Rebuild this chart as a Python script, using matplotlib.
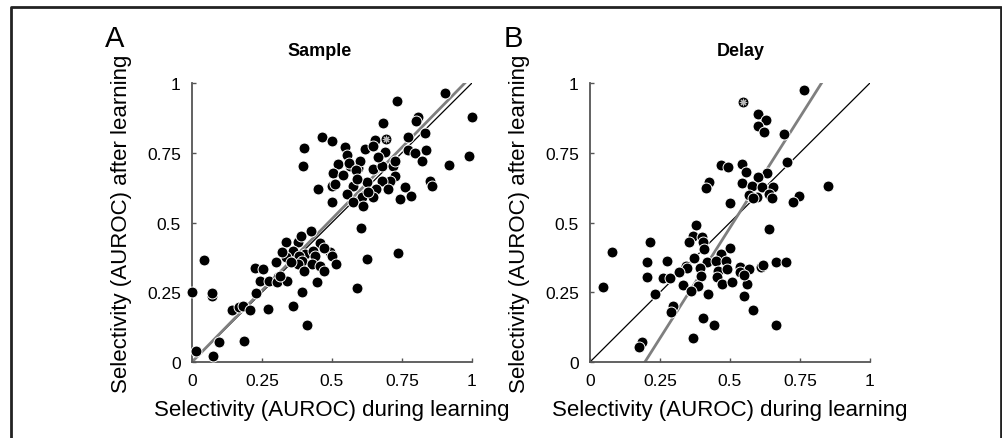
import numpy as np
import matplotlib
matplotlib.use("Agg")
import matplotlib.pyplot as plt
from matplotlib.lines import Line2D

plt.rcParams['font.family'] = ['Liberation Sans', 'DejaVu Sans']

# Sample period: selectivity during learning (x) vs after learning (y)
sample_during = [0.904, 1.0, 0.731, 0.808, 0.80, 0.681, 0.832, 0.773, 0.654, 0.463,
                 0.499, 0.545, 0.617, 0.401, 0.835, 0.773, 0.796, 0.552, 0.647, 0.689,
                 0.395, 0.523, 0.564, 0.594, 0.600, 0.647, 0.677, 0.719, 0.725, 0.820,
                 0.919, 0.990, 0.502, 0.540, 0.725, 0.707, 0.677, 0.850, 0.856, 0.624,
                 0.576, 0.499, 0.511, 0.451, 0.701, 0.761, 0.659, 0.552, 0.606, 0.647,
                 0.576, 0.743, 0.781, 0.499, 0.610, 0.630, 0.604, 0.424, 0.336, 0.377,
                 0.388, 0.457, 0.362, 0.404, 0.433, 0.493, 0.499, 0.336, 0.381, 0.393,
                 0.439, 0.427, 0.379, 0.514, 0.457, 0.300, 0.471, 0.400, 0.225, 0.255,
                 0.243, 0.276, 0.308, 0.305, 0.340, 0.314, 0.448, 0.626, 0.737, 0.043,
                 0.0, 0.073, 0.073, 0.228, 0.394, 0.591, 0.144, 0.169, 0.181, 0.207,
                 0.270, 0.362, 0.410, 0.186, 0.098, 0.013, 0.076, 0.560, 0.585, 0.666,
                 0.470, 0.355, 0.320, 0.590]
sample_after = [0.964, 0.879, 0.937, 0.879, 0.865, 0.855, 0.821, 0.807, 0.797, 0.807,
                0.793, 0.772, 0.762, 0.766, 0.761, 0.760, 0.748, 0.742, 0.775, 0.751,
                0.704, 0.710, 0.704, 0.695, 0.719, 0.692, 0.704, 0.704, 0.719, 0.722,
                0.706, 0.737, 0.677, 0.670, 0.665, 0.650, 0.650, 0.650, 0.632, 0.647,
                0.632, 0.632, 0.638, 0.620, 0.620, 0.626, 0.620, 0.602, 0.593, 0.590,
                0.572, 0.584, 0.596, 0.572, 0.560, 0.608, 0.479, 0.471, 0.431, 0.431,
                0.453, 0.425, 0.399, 0.387, 0.399, 0.393, 0.381, 0.375, 0.381, 0.363,
                0.381, 0.351, 0.351, 0.351, 0.345, 0.357, 0.325, 0.325, 0.336, 0.333,
                0.291, 0.291, 0.303, 0.285, 0.289, 0.309, 0.285, 0.371, 0.389, 0.367,
                0.250, 0.238, 0.246, 0.246, 0.250, 0.265, 0.187, 0.196, 0.200, 0.187,
                0.189, 0.200, 0.134, 0.074, 0.071, 0.041, 0.020, 0.715, 0.690, 0.735,
                0.410, 0.360, 0.395, 0.655]
sample_marked = (0.693, 0.799)
sample_fit = (1.026, 0.0)   # slope, intercept of gray line

# Delay period
delay_during = [0.764, 0.599, 0.627, 0.601, 0.621, 0.693, 0.702, 0.468, 0.494, 0.544,
                0.556, 0.631, 0.601, 0.542, 0.577, 0.613, 0.655, 0.426, 0.414, 0.849,
                0.569, 0.595, 0.641, 0.649, 0.581, 0.748, 0.724, 0.500, 0.639, 0.379,
                0.367, 0.399, 0.405, 0.355, 0.409, 0.214, 0.080, 0.500, 0.468, 0.202,
                0.274, 0.343, 0.373, 0.417, 0.450, 0.486, 0.458, 0.488, 0.393, 0.348,
                0.536, 0.568, 0.611, 0.619, 0.664, 0.700, 0.319, 0.202, 0.262, 0.286,
                0.333, 0.395, 0.452, 0.472, 0.506, 0.560, 0.536, 0.550, 0.387, 0.360,
                0.423, 0.232, 0.045, 0.550, 0.581, 0.298, 0.288, 0.405, 0.444, 0.664,
                0.369, 0.185, 0.175]
delay_after = [0.975, 0.889, 0.868, 0.845, 0.823, 0.817, 0.716, 0.707, 0.700, 0.709,
               0.680, 0.677, 0.662, 0.641, 0.632, 0.626, 0.626, 0.644, 0.623, 0.632,
               0.599, 0.591, 0.602, 0.587, 0.587, 0.596, 0.572, 0.569, 0.477, 0.491,
               0.453, 0.447, 0.431, 0.431, 0.405, 0.429, 0.395, 0.407, 0.387, 0.357,
               0.361, 0.345, 0.372, 0.357, 0.363, 0.363, 0.327, 0.333, 0.336, 0.336,
               0.339, 0.333, 0.341, 0.347, 0.357, 0.357, 0.321, 0.304, 0.300, 0.300,
               0.276, 0.309, 0.304, 0.280, 0.286, 0.280, 0.321, 0.312, 0.273, 0.253,
               0.243, 0.243, 0.268, 0.238, 0.188, 0.200, 0.180, 0.157, 0.133, 0.134,
               0.085, 0.073, 0.055]
delay_marked = (0.548, 0.933)
delay_fit = (1.585, -0.311)

ticks = [0, 0.25, 0.5, 0.75, 1]
ticklabels = ['0', '0.25', '0.5', '0.75', '1']

fig = plt.figure(figsize=(10.02, 4.39), dpi=100)


def panel(left, xs, ys, marked, fit, title, title_x, letter):
    ax = fig.add_axes([left, 0.1731, 0.2794, 0.6355])
    ax.set_xlim(0, 1)
    ax.set_ylim(0, 1)
    # identity line
    ax.plot([0, 1], [0, 1], color='black', lw=0.9, zorder=1)
    # fitted line, clipped to the unit square
    m, b = fit
    x0 = max(0, (0 - b) / m)
    x1 = min(1, (1 - b) / m)
    ax.plot([x0, x1], [m * x0 + b, m * x1 + b], color='#7f7f7f', lw=2.0, zorder=2)
    ax.scatter(xs, ys, s=62, c='black', edgecolors='white', linewidths=0.7,
               zorder=3, clip_on=False)
    ax.scatter([marked[0]], [marked[1]], s=62, c='black', edgecolors='white',
               linewidths=0.7, zorder=4)
    ax.scatter([marked[0]], [marked[1]], s=22, marker=(8, 2, 0), c='#bbbbbb',
               linewidths=0.8, zorder=5)
    for s in ['top', 'right']:
        ax.spines[s].set_visible(False)
    for s in ['left', 'bottom']:
        ax.spines[s].set_color('#555555')
        ax.spines[s].set_linewidth(1.3)
    ax.set_xticks(ticks)
    ax.set_yticks(ticks)
    ax.set_xticklabels(ticklabels)
    ax.set_yticklabels(ticklabels)
    ax.tick_params(direction='in', length=3, width=1, color='#555555',
                   labelsize=12.5, pad=8)
    ax.set_xlabel('Selectivity (AUROC) during learning', fontsize=16, labelpad=8)
    ax.set_ylabel('Selectivity (AUROC) after learning', fontsize=16, labelpad=11)
    ax.text(title_x, 1.085, title, transform=ax.transAxes, ha='center',
            va='bottom', fontsize=13, fontweight='bold')
    ax.text(-0.31, 1.11, letter, transform=ax.transAxes, ha='left',
            va='bottom', fontsize=21)
    return ax


panel(0.1916, sample_during, sample_after, sample_marked, sample_fit,
      'Sample', 0.455, 'A')
panel(0.5888, delay_during, delay_after, delay_marked, delay_fit,
      'Delay', 0.54, 'B')

# outer frame (open at the bottom)
fx0, fx1, fy = 10.5 / 1002, 1000.5 / 1002, 1 - 7.5 / 439
fig.add_artist(Line2D([fx0, fx0, fx1, fx1], [0, fy, fy, 0],
                      transform=fig.transFigure, color='#222222', lw=2.0))

fig.savefig('out.png', dpi=100)
